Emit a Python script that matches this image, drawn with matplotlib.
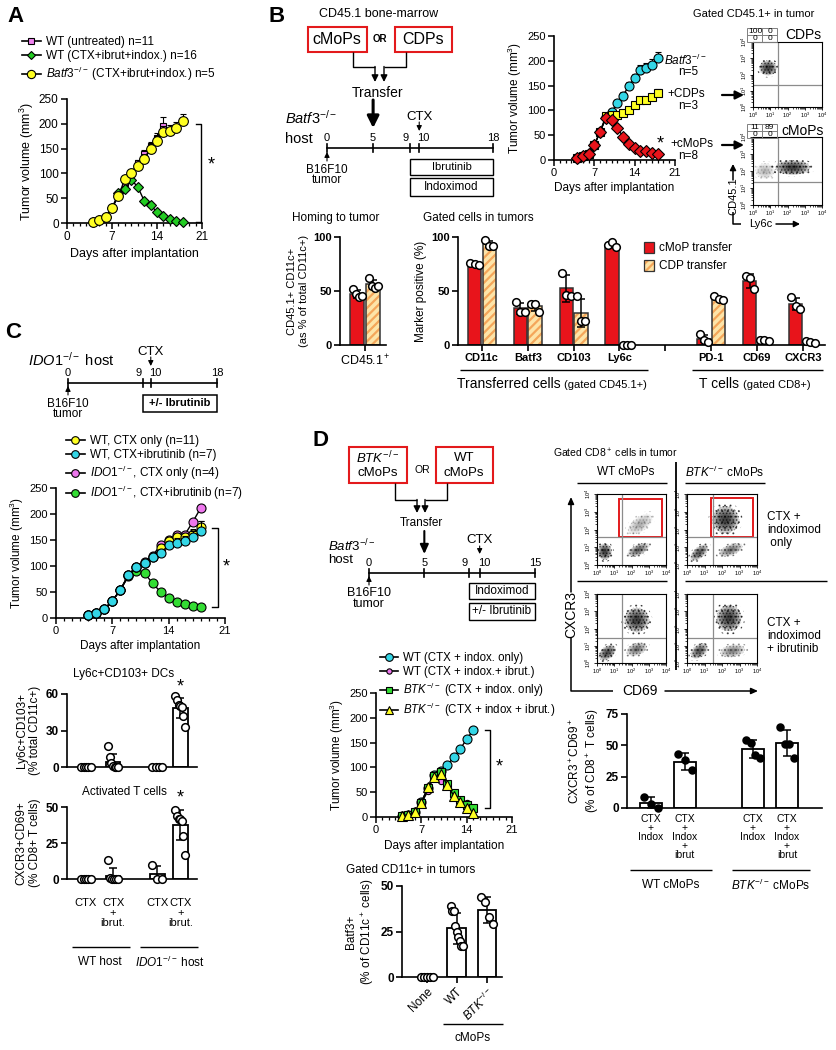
import numpy as np
import matplotlib
matplotlib.use('Agg')
import matplotlib.pyplot as plt
from matplotlib.patches import Ellipse, Rectangle
from matplotlib.lines import Line2D

plt.rcParams['font.family'] = ['Liberation Sans', 'DejaVu Sans']
plt.rcParams['mathtext.fontset'] = 'custom'
plt.rcParams['mathtext.rm'] = 'Liberation Sans'
plt.rcParams['mathtext.it'] = 'Liberation Sans:italic'
plt.rcParams['mathtext.bf'] = 'Liberation Sans:bold'
plt.rcParams['axes.linewidth'] = 1.2
plt.rcParams['hatch.linewidth'] = 1.6

# ---------------- data ----------------
# A: tumour growth
a_days_untr = np.arange(4, 16)
a_untr = [3, 6, 12, 30, 55, 80, 100, 120, 140, 155, 172, 196]
a_untr_err = [1, 1, 2, 3, 4, 5, 6, 7, 8, 8, 9, 18]
a_days = np.arange(4, 19)
a_wt_combo = [3, 6, 12, 30, 60, 68, 87, 73, 45, 36, 22, 14, 8, 5, 3]
a_batf3 = [3, 6, 12, 30, 55, 88, 100, 115, 130, 150, 165, 183, 185, 192, 205]
a_batf3_err = [1, 1, 2, 3, 5, 6, 7, 8, 9, 10, 10, 12, 12, 12, 15]

# B: growth after transfer
b_days = np.arange(4, 19)
b_batf3 = [5, 8, 13, 30, 57, 86, 97, 115, 130, 150, 165, 182, 185, 192, 205]
b_batf3_err = [1, 1, 2, 3, 4, 5, 5, 6, 7, 8, 8, 9, 10, 12, 12]
b_cdp = [5, 8, 13, 30, 57, 88, 90, 90, 94, 100, 110, 120, 121, 127, 135]
b_cdp_err = [1, 1, 1, 2, 3, 4, 4, 4, 4, 5, 5, 6, 6, 7, 8]
b_cmop = [5, 8, 13, 30, 57, 84, 80, 64, 47, 32, 25, 19, 19, 15, 13]
b_timeline_ticks = [0, 5, 9, 10, 18]

# B: bars (individual mice)
b_homing_cmop = [52, 47, 44, 45]
b_homing_cdp = [62, 55, 53, 55]
b_markers = ['CD11c', 'Batf3', 'CD103', 'Ly6c', '', 'PD-1', 'CD69', 'CXCR3']
b_marker_cmop = [[76, 75, 74], [40, 31, 31], [67, 46, 45], [93, 95, 91], None,
                 [10, 5, 3], [64, 62, 52], [44, 36, 33]]
b_marker_cdp = [[97, 92, 92], [38, 38, 31], [45, 22, 22], [0, 0, 0], None,
                [45, 43, 42], [5, 5, 4], [4, 3, 2]]

# B: flow clusters (center x, center y, half-width, half-height, angle, density), log10 units
b_flow_cdp = [(0.87, 2.4, 0.5, 0.45, 0, 1.0)]
b_flow_cmop = [(2.3, 2.2, 1.0, 0.42, 0, 1.0), (0.7, 2.0, 0.55, 0.45, 0, 0.25)]
b_quadrants = [['100', '0'], ['0', '0'], ['11', '89'], ['0', '0']]

# C
c_timeline_ticks = [0, 9, 10, 18]
c_days = np.arange(4, 19)
c_wt_ctx = [6, 10, 17, 33, 54, 83, 98, 106, 117, 135, 148, 155, 155, 162, 175]
c_wt_ctx_err = [1, 1, 2, 3, 4, 5, 5, 6, 6, 7, 8, 8, 9, 10, 12]
c_wt_ib = [6, 10, 17, 33, 54, 83, 98, 106, 117, 125, 140, 145, 148, 155, 168]
c_wt_ib_err = [1, 1, 2, 3, 4, 5, 5, 6, 6, 7, 8, 9, 10, 12, 18]
c_ido_ctx = [6, 10, 17, 33, 54, 83, 98, 108, 120, 140, 150, 160, 160, 185, 212]
c_ido_ib = [6, 10, 17, 33, 54, 80, 90, 86, 67, 50, 38, 31, 27, 23, 21]
c_groups = ['CTX', 'CTX\n+\nibrut.', 'CTX', 'CTX\n+\nibrut.']
c_dcs = [[0, 0, 0, 0, 0], [17, 8, 3, 1, 0, 0, 0], [0, 0, 0, 0], [58, 55, 51, 50, 49, 42, 33]]
c_tcells = [[0, 0, 0, 0, 0], [13, 1, 0, 0, 0, 0], [10, 0, 0], [48, 44, 42, 42, 40, 30, 17]]

# D
d_timeline_ticks = [0, 5, 9, 10, 15]
d_days = np.arange(4, 16)
d_wt_indox = [2, 5, 10, 30, 58, 85, 92, 105, 120, 137, 157, 175]
d_wt_ib = [2, 5, 10, 28, 52, 85, 72, 65, 48, 35, 28, 18]
d_btk_indox = [2, 5, 10, 28, 58, 82, 90, 67, 48, 35, 25, 18]
d_btk_ib = [2, 5, 10, 28, 60, 80, 87, 65, 43, 30, 18, 8]
d_batf3 = [[0, 0, 0, 0, 0], [39, 36, 36, 28, 25, 22, 20, 17, 17], [44, 41, 33, 29]]
d_act = [[9, 3, 0], [43, 38, 30], [54, 52, 42, 40], [65, 51, 51, 40]]
d_act_labels = ['CTX\n+\nIndox', 'CTX\n+\nIndox\n+\nibrut', 'CTX\n+\nIndox', 'CTX\n+\nIndox\n+\nibrut']
d_flow_wt_top = [(0.45, 0.75, 0.4, 0.45, 0, 1.0), (2.4, 0.85, 0.65, 0.3, 25, 0.7), (2.5, 2.3, 0.8, 0.4, 35, 0.3)]
d_flow_btk_top = [(2.2, 2.55, 0.75, 0.75, 0, 1.0), (0.7, 0.7, 0.6, 0.3, 40, 0.8), (2.5, 0.85, 0.7, 0.3, 20, 0.6)]
d_flow_wt_bot = [(2.3, 2.5, 0.7, 0.7, 0, 1.0), (0.6, 0.6, 0.55, 0.35, 40, 0.9), (2.3, 0.8, 0.6, 0.35, 20, 0.6)]
d_flow_btk_bot = [(2.4, 2.6, 0.7, 0.75, 0, 1.0), (0.7, 0.7, 0.55, 0.35, 40, 0.8), (2.6, 0.7, 0.7, 0.35, 10, 0.5)]

RED = '#e8141b'
BEIGE = '#fde4a8'
ORANGE = '#f4a65a'
BOXRED = '#e31a1c'

W, H = 836, 1050
fig = plt.figure(figsize=(W / 100, H / 100), dpi=100)


def box(x0, y0, x1, y1):
    ax = fig.add_axes([x0 / W, 1 - y1 / H, (x1 - x0) / W, (y1 - y0) / H])
    ax.patch.set_visible(False)
    return ax


ov = box(0, 0, W, H)
ov.set_xlim(0, W)
ov.set_ylim(H, 0)
ov.axis('off')
ov.set_zorder(10)


def txt(x, y, s, fs=8.5, ha='center', va='center', **kw):
    ov.text(x, y, s, fontsize=fs, ha=ha, va=va, **kw)


def ln(xs, ys, lw=1.0, color='k'):
    ov.plot(xs, ys, color=color, lw=lw, solid_capstyle='butt')


def arr(ax, x0, y0, x1, y1, lw=1.0, hw=0.25, hl=0.5):
    ax.annotate('', xy=(x1, y1), xytext=(x0, y0), annotation_clip=False,
                arrowprops=dict(arrowstyle='-|>,head_width=%s,head_length=%s' % (hw, hl),
                                color='k', lw=lw, shrinkA=0, shrinkB=0))


def growth_ax(x0, y0, x1, y1, fs=8):
    ax = box(x0, y0, x1, y1)
    ax.set_xlim(0, 21)
    ax.set_ylim(0, 250)
    ax.set_xticks([0, 7, 14, 21])
    ax.set_xticks(range(22), minor=True)
    ax.set_yticks(range(0, 251, 50))
    for s in ('top', 'right'):
        ax.spines[s].set_visible(False)
    ax.tick_params(labelsize=fs, length=4, width=1.1, pad=2)
    ax.tick_params(axis='x', which='minor', length=2.5, width=0.9)
    ax.set_xlabel('Days after implantation', fontsize=fs + 0.5, labelpad=3)
    ax.set_ylabel('Tumor volume (mm$^3$)', fontsize=fs + 0.5, labelpad=2)
    return ax


def series(ax, d, v, err, marker, fc, ms, z):
    v = np.asarray(v, float)
    if err is not None:
        ax.errorbar(d, v, yerr=[np.zeros(len(v)), err], fmt='none', ecolor='k',
                    elinewidth=0.8, capsize=2, capthick=0.8, zorder=z)
    ax.plot(d, v, marker=marker, color='k', lw=1, mfc=fc, mec='k', mew=0.8, ms=ms,
            zorder=z + 0.5, clip_on=False)
    return Line2D([], [], color='k', lw=1.2, marker=marker, mfc=fc, mec='k', mew=0.8, ms=ms * 0.85)


def legend(handles, labels, x, y, fs=8.5):
    fig.legend(handles, labels, loc='upper left', bbox_to_anchor=(x / W, 1 - y / H),
               frameon=False, fontsize=fs, handlelength=1.6, handletextpad=0.4,
               labelspacing=0.2, borderaxespad=0, borderpad=0)


def bracket(ax, xl, xr, ytop, ybot, xs, ys):
    ax.plot([xl, xr, xr, xl], [ytop, ytop, ybot, ybot], color='k', lw=1, clip_on=False)
    ax.text(xs, ys, '*', fontsize=13, ha='center', va='center', clip_on=False)


def bar_ax(x0, y0, x1, y1, xlim, ymax, yticks, fs=8.5):
    ax = box(x0, y0, x1, y1)
    ax.set_xlim(*xlim)
    ax.set_ylim(0, ymax)
    ax.set_yticks(yticks, [str(t) for t in yticks], fontweight='bold')
    for s in ('top', 'right'):
        ax.spines[s].set_visible(False)
    ax.tick_params(labelsize=fs, width=1.2, length=4, pad=2)
    return ax


def dot_bar(ax, x, vals, width, kind='white', dot_fc='white', ms=5.5):
    vals = np.asarray(vals, float)
    m = vals.mean()
    sd = vals.std(ddof=1) if len(vals) > 1 else 0
    if kind == 'red':
        ax.bar(x, m, width, color=RED, edgecolor='#333333', lw=1.1, zorder=2)
    elif kind == 'beige':
        ax.bar(x, m, width, color=BEIGE, edgecolor=ORANGE, hatch='////', lw=0, zorder=2)
        ax.bar(x, m, width, fill=False, edgecolor='#333333', lw=1.1, zorder=2.1)
    else:
        ax.bar(x, m, width, color='white', edgecolor='k', lw=1.3, zorder=2)
    ax.errorbar(x, m, yerr=sd, fmt='none', ecolor='k', capsize=3, elinewidth=1.1,
                capthick=1.1, zorder=3)
    offs = np.linspace(-width * 0.32, width * 0.32, len(vals))
    ax.plot(x + offs, vals, 'o', mfc=dot_fc, mec='k', mew=1.1, ms=ms, zorder=4, clip_on=False)


def cloud(ax, cx, cy, sx, sy, ang, dens):
    # stippled halo + graded core, drawn with a finer hatch
    with plt.rc_context({'hatch.linewidth': 0.7}):
        ax.add_patch(Ellipse((cx, cy), 2.6 * sx, 2.6 * sy, angle=ang, fill=False,
                             hatch='...', ec=(0, 0, 0, 0.6 * dens), lw=0))
        ax.add_patch(Ellipse((cx, cy), 2.1 * sx, 2.1 * sy, angle=ang, fill=False,
                             hatch='.....', ec=(0, 0, 0, 0.6 * dens), lw=0))
    for f in (1.0, 0.85, 0.7, 0.55, 0.4, 0.25):
        ax.add_patch(Ellipse((cx, cy), 2 * sx * f, 2 * sy * f, angle=ang,
                             fc=(0, 0, 0, 0.2 * dens), lw=0))


def flow(x0, y0, x1, y1, clouds, qx, qy, gate=None):
    ax = box(x0, y0, x1, y1)
    ax.set_xlim(0, 4)
    ax.set_ylim(0, 4)
    for c in clouds:
        cloud(ax, *c)
    ax.axvline(qx, color='0.55', lw=0.9)
    ax.axhline(qy, color='0.55', lw=0.9)
    if gate is not None:
        gx0, gy0, gx1, gy1 = gate
        ax.add_patch(Rectangle((gx0, gy0), gx1 - gx0, gy1 - gy0, fill=False, ec=BOXRED, lw=1.4))
    labs = ['$10^{%d}$' % k for k in range(5)]
    ax.set_xticks(range(5), labs)
    ax.set_yticks(range(5), labs)
    minor = [k + np.log10(m) for k in range(4) for m in range(2, 10)]
    ax.set_xticks(minor, minor=True)
    ax.set_yticks(minor, minor=True)
    ax.tick_params(labelsize=4, length=2, width=0.6, pad=1)
    ax.tick_params(which='minor', length=1.2, width=0.5)
    for lab in ax.get_yticklabels():
        lab.set_rotation(90)
        lab.set_va('center')
    for s in ax.spines.values():
        s.set_linewidth(0.8)
    return ax


def timeline(x0, x1, y0, y1, dmax, ticks, yl):
    t = box(x0, y0, x1, y1)
    t.set_xlim(0, dmax)
    t.set_ylim(y1, y0)
    t.axis('off')
    t.set_zorder(11)
    t.plot([0, dmax], [yl, yl], color='k', lw=1.2, clip_on=False)
    for d in ticks:
        t.plot([d, d], [yl - 4, yl + 4], color='k', lw=1.2, clip_on=False)
        # keep the close 9 / 10 labels apart
        dx = {9: -3, 10: 3}.get(d, 0)
        t.annotate(str(d), (d, yl - 10), xytext=(dx, 0), textcoords='offset points',
                   ha='center', va='center', fontsize=8, annotation_clip=False)
    return t


# ================= Panel A =================
txt(15, 17, 'A', fs=16, weight='bold')
axA = growth_ax(67, 99, 202, 223, fs=8.5)
hA = [series(axA, a_days_untr, a_untr, a_untr_err, 's', '#ee82ee', 5, 3),
      series(axA, a_days, a_wt_combo, None, 'D', '#22cc22', 5, 4),
      series(axA, a_days, a_batf3, a_batf3_err, 'o', '#ffff22', 7, 5)]
legend(hA, ['WT (untreated) n=11', 'WT (CTX+ibrut+indox.) n=16',
            r'$\mathit{Batf3}^{-/-}$ (CTX+ibrut+indox.) n=5'], 22, 36)
bracket(axA, 20.0, 20.8, 200, 3, 22.5, 116)

# ================= Panel B =================
txt(277, 17, 'B', fs=16, weight='bold')
txt(379, 14, 'CD45.1 bone-marrow', fs=9)
ov.add_patch(Rectangle((308, 27), 59, 25, fill=False, ec=BOXRED, lw=1.5))
ov.add_patch(Rectangle((395, 27), 57, 25, fill=False, ec=BOXRED, lw=1.5))
txt(337, 40, 'cMoPs', fs=11.5)
txt(423, 40, 'CDPs', fs=11.5)
txt(380, 39, 'OR', fs=7, weight='bold')
ln([353, 353, 375], [52, 67, 67])
ln([406, 406, 384], [52, 67, 67])
arr(ov, 375, 66.5, 375, 82, hw=0.2, hl=0.4)
arr(ov, 384, 66.5, 384, 82, hw=0.2, hl=0.4)
txt(378, 93, 'Transfer', fs=10)
txt(285, 118, r'$\mathit{Batf3}^{-/-}$', fs=10.5, ha='left')
txt(285, 139, 'host', fs=10.5, ha='left')
tB = timeline(327, 493, 95, 200, 18, b_timeline_ticks, 148)
arr(tB, 5, 100, 5, 128, lw=2.2, hw=0.35, hl=0.7)
tB.text(10, 117, 'CTX', ha='center', va='center', fontsize=9.5)
arr(tB, 10, 122, 10, 131, lw=0.8, hw=0.15, hl=0.3)
arr(tB, 0, 161, 0, 152, lw=0.8, hw=0.15, hl=0.3)
tB.text(0, 170, 'B16F10', ha='center', va='center', fontsize=8.5)
tB.text(0, 180, 'tumor', ha='center', va='center', fontsize=8.5)
tB.add_patch(Rectangle((9, 159), 9, 16, fill=False, lw=1, clip_on=False))
tB.add_patch(Rectangle((9, 178), 9, 18, fill=False, lw=1, clip_on=False))
tB.text(13.5, 167, 'Ibrutinib', ha='center', va='center', fontsize=8)
tB.text(13.5, 187, 'Indoximod', ha='center', va='center', fontsize=8.5)

axB = growth_ax(554, 36, 675, 160, fs=8)
series(axB, b_days, b_batf3, b_batf3_err, 'o', '#33d6e6', 6.5, 3)
series(axB, b_days, b_cdp, b_cdp_err, 's', '#ffff22', 5.5, 4)
series(axB, b_days, b_cmop, None, 'D', RED, 6, 5)
txt(685, 60, r'$\mathit{Batf3}^{-/-}$', fs=8.5)
txt(688, 72, 'n=5', fs=8.5)
txt(686, 94, '+CDPs', fs=8.5)
txt(688, 106, 'n=3', fs=8.5)
txt(660, 144, '*', fs=13)
txt(692, 144, '+cMoPs', fs=8.5)
txt(688, 156, 'n=8', fs=8.5)
arr(ov, 722, 95, 744, 95, lw=1.6, hw=0.25, hl=0.5)
arr(ov, 722, 145, 744, 145, lw=1.6, hw=0.25, hl=0.5)

txt(754, 14, 'Gated CD45.1+ in tumor', fs=8)
for k, (ty, name, nx, ny) in enumerate(((28, 'CDPs', 803, 35), (124, 'cMoPs', 803, 131))):
    top, bot = b_quadrants[2 * k], b_quadrants[2 * k + 1]
    ov.add_patch(Rectangle((747, ty), 30, 14, fill=False, ec='0.5', lw=0.7))
    ln([762, 762], [ty, ty + 14], lw=0.7, color='0.5')
    ln([747, 777], [ty + 7, ty + 7], lw=0.7, color='0.5')
    txt(755, ty + 3.6, top[0], fs=6)
    txt(769.5, ty + 3.6, top[1], fs=6)
    txt(755, ty + 10.6, bot[0], fs=6)
    txt(769.5, ty + 10.6, bot[1], fs=6)
    txt(nx, ny, name, fs=10)
flow(753, 42, 822, 107, b_flow_cdp, 1.45, 1.35)
flow(753, 137, 822, 205, b_flow_cmop, 1.45, 1.35)
ov.text(733, 196, 'CD45.1', rotation=90, fontsize=8, ha='center', va='center')
arr(ov, 733, 180, 733, 164, lw=1.1, hw=0.18, hl=0.35)
ln([733, 733, 741], [212, 224, 224], lw=1.1)
txt(761, 224, 'Ly6c', fs=8)
arr(ov, 776, 224, 800, 224, lw=1.1, hw=0.18, hl=0.35)

# B bars
txt(336, 218, 'Homing to tumor', fs=8.5)
axH = bar_ax(340, 237, 386, 345, (-1.1, 0.9), 100, [0, 50, 100], fs=8)
dot_bar(axH, -0.35, b_homing_cmop, 0.6, 'red')
dot_bar(axH, 0.35, b_homing_cdp, 0.6, 'beige')
axH.set_xticks([0], ['CD45.1$^+$'], fontsize=9)
axH.set_ylabel('CD45.1+ CD11c+\n(as % of total CD11c+)', fontsize=8, labelpad=3)

txt(478, 218, 'Gated cells in tumors', fs=8.5)
axM = bar_ax(458, 237, 825, 345, (-0.52, 7.48), 100, [0, 50, 100], fs=8)
for i, (rv, bv) in enumerate(zip(b_marker_cmop, b_marker_cdp)):
    if rv is None:
        continue
    dot_bar(axM, i - 0.16, rv, 0.29, 'red')
    dot_bar(axM, i + 0.16, bv, 0.29, 'beige')
axM.set_xticks(range(len(b_markers)), b_markers, fontweight='bold', fontsize=8)
axM.set_ylabel('Marker positive (%)', fontsize=8.5, labelpad=3)
ov.add_patch(Rectangle((644, 242), 10, 11, fc=RED, ec='#333333', lw=0.9))
ov.add_patch(Rectangle((644, 260), 10, 11, fc=BEIGE, ec=ORANGE, hatch='////', lw=0))
ov.add_patch(Rectangle((644, 260), 10, 11, fill=False, ec='#333333', lw=0.9))
txt(659, 248, 'cMoP transfer', fs=8.5, ha='left')
txt(659, 266, 'CDP transfer', fs=8.5, ha='left')
ln([460, 648], [370, 370])
txt(561, 384, 'Transferred cells', fs=10, ha='right')
txt(564, 385, '(gated CD45.1+)', fs=8, ha='left')
ln([692, 823], [370, 370])
txt(739, 384, 'T cells', fs=10, ha='right')
txt(743, 385, '(gated CD8+)', fs=8, ha='left')

# ================= Panel C =================
txt(13, 333, 'C', fs=16, weight='bold')
txt(28, 360, r'$\mathit{IDO1}^{-/-}$ host', fs=10.5, ha='left')
tC = timeline(68, 217, 340, 420, 18, c_timeline_ticks, 383)
tC.text(10, 352, 'CTX', ha='center', va='center', fontsize=9.5)
arr(tC, 10, 357, 10, 366, lw=0.8, hw=0.15, hl=0.3)
arr(tC, 0, 395, 0, 386, lw=0.8, hw=0.15, hl=0.3)
tC.text(0, 404, 'B16F10', ha='center', va='center', fontsize=8.5)
tC.text(0, 414, 'tumor', ha='center', va='center', fontsize=8.5)
tC.add_patch(Rectangle((9, 395), 9, 17, fill=False, lw=1.1, clip_on=False))
tC.text(13.5, 403.5, '+/- Ibrutinib', ha='center', va='center', fontsize=8, weight='bold')

axC = growth_ax(56, 488, 225, 618, fs=8)
hC3 = series(axC, c_days, c_ido_ib, None, 'o', '#33dd33', 6.5, 2)
hC2 = series(axC, c_days, c_ido_ctx, None, 'o', '#ee77ee', 6.5, 3)
hC0 = series(axC, c_days, c_wt_ctx, c_wt_ctx_err, 'o', '#ffff22', 6.5, 4)
hC1 = series(axC, c_days, c_wt_ib, c_wt_ib_err, 'o', '#33d6e6', 6.5, 5)
legend([hC0, hC1, hC2, hC3], ['WT, CTX only (n=11)', 'WT, CTX+ibrutinib (n=7)',
                              r'$\mathit{IDO1}^{-/-}$, CTX only (n=4)',
                              r'$\mathit{IDO1}^{-/-}$, CTX+ibrutinib (n=7)'], 66, 435)
bracket(axC, 19.4, 20.1, 173, 21, 21.2, 98)

c_pos = [0, 1, 2.63, 3.48]
txt(124, 674, 'Ly6c+CD103+ DCs', fs=8.5)
axC1 = bar_ax(67, 694, 197, 767, (-0.7, 4.1), 60, [0, 30, 60])
for p, v in zip(c_pos, c_dcs):
    dot_bar(axC1, p, v, 0.55)
axC1.set_xticks([])
axC1.set_ylabel('Ly6c+CD103+\n(% total CD11c+)', fontsize=8.5, labelpad=3)
axC1.text(3.48, 66, '*', fontsize=13, ha='center', va='center', clip_on=False)

txt(124, 792, 'Activated T cells', fs=8.5)
axC2 = bar_ax(67, 807, 197, 879, (-0.7, 4.1), 50, [0, 25, 50])
for p, v in zip(c_pos, c_tcells):
    dot_bar(axC2, p, v, 0.55)
axC2.set_xticks(c_pos, c_groups, fontsize=8, linespacing=0.95)
axC2.tick_params(axis='x', length=0, pad=14)
axC2.set_ylabel('CXCR3+CD69+\n(% CD8+ T cells)', fontsize=8.5, labelpad=3)
axC2.text(3.48, 56, '*', fontsize=13, ha='center', va='center', clip_on=False)
ln([72, 130], [947, 947])
ln([140, 198], [947, 947])
txt(100, 962, 'WT host', fs=8.5)
txt(170, 962, r'$\mathit{IDO1}^{-/-}$ host', fs=8.5)

# ================= Panel D =================
txt(320, 440, 'D', fs=16, weight='bold')
ov.add_patch(Rectangle((349, 447), 58, 36, fill=False, ec=BOXRED, lw=1.5))
ov.add_patch(Rectangle((436, 447), 57, 36, fill=False, ec=BOXRED, lw=1.5))
txt(378, 458, r'$\mathit{BTK}^{-/-}$', fs=9.5)
txt(378, 473, 'cMoPs', fs=9.5)
txt(464, 458, 'WT', fs=9.5)
txt(464, 473, 'cMoPs', fs=9.5)
txt(422, 470, 'OR', fs=7.5)
ln([395, 395, 417], [483, 500, 500])
ln([447, 447, 425], [483, 500, 500])
arr(ov, 417, 499.5, 417, 513, hw=0.2, hl=0.4)
arr(ov, 425, 499.5, 425, 513, hw=0.2, hl=0.4)
txt(421, 523, 'Transfer', fs=8.5)
txt(328, 546, r'$\mathit{Batf3}^{-/-}$', fs=9.5, ha='left')
txt(328, 560, 'host', fs=9.5, ha='left')
tD = timeline(369, 535, 525, 625, 15, d_timeline_ticks, 573)
arr(tD, 5, 531, 5, 554, lw=1.5, hw=0.25, hl=0.55)
tD.text(10, 540, 'CTX', ha='center', va='center', fontsize=9.5)
arr(tD, 10, 546, 10, 554, lw=0.8, hw=0.15, hl=0.3)
arr(tD, 0, 585, 0, 576, lw=0.8, hw=0.15, hl=0.3)
tD.text(0, 593, 'B16F10', ha='center', va='center', fontsize=9)
tD.text(0, 604, 'tumor', ha='center', va='center', fontsize=9)
tD.add_patch(Rectangle((9, 583), 6, 16, fill=False, lw=1, clip_on=False))
tD.add_patch(Rectangle((9, 603), 6, 17, fill=False, lw=1, clip_on=False))
tD.text(12, 591, 'Indoximod', ha='center', va='center', fontsize=8.5)
tD.text(12, 611.5, '+/- Ibrutinib', ha='center', va='center', fontsize=8.5)

axD = growth_ax(376, 693, 512, 817, fs=8)
hD0 = series(axD, d_days, d_wt_indox, None, 'o', '#33d6e6', 6.5, 2)
hD1 = series(axD, d_days, d_wt_ib, None, 'o', '#ee77ee', 4.5, 3)
hD2 = series(axD, d_days, d_btk_indox, None, 's', '#33dd33', 5.5, 4)
hD3 = series(axD, d_days, d_btk_ib, None, '^', '#ffff22', 6.5, 5)
legend([hD0, hD1, hD2, hD3], ['WT (CTX + indox. only)', 'WT (CTX + indox.+ ibrut.)',
                              r'$\mathit{BTK}^{-/-}$ (CTX + indox. only)',
                              r'$\mathit{BTK}^{-/-}$ (CTX + indox + ibrut.)'], 380, 652, fs=8.3)
bracket(axD, 16.9, 17.6, 175, 18, 19.0, 100)

txt(411, 870, 'Gated CD11c+ in tumors', fs=8.5)
axDb = bar_ax(402, 886, 502, 977, (-0.83, 2.5), 50, [0, 25, 50])
for p, v in zip([0, 1, 2], d_batf3):
    dot_bar(axDb, p, v, 0.63)
axDb.set_xticks([0, 1, 2], ['None', 'WT', r'$\mathit{BTK}^{-/-}$'], fontsize=8.5,
                rotation=45, ha='right', rotation_mode='anchor')
axDb.set_ylabel('Batf3+\n(% of CD11c$^+$ cells)', fontsize=8.5, labelpad=3)
ln([443, 503], [1024, 1024])
txt(473, 1038, 'cMoPs', fs=8.5)

txt(615, 453, 'Gated CD8$^+$ cells in tumor', fs=7.5)
txt(626, 472, 'WT cMoPs', fs=8.5)
txt(725, 472, r'$\mathit{BTK}^{-/-}$ cMoPs', fs=8.5)
ln([577, 667], [483, 483])
ln([685, 765], [483, 483])
ln([676, 676], [462, 670], lw=1.3)
ln([577, 667], [581, 581])
ln([685, 827], [581, 581])
flow(597, 494, 666, 565, d_flow_wt_top, 1.45, 1.58, (1.28, 1.58, 3.77, 3.72))
flow(687, 494, 757, 565, d_flow_btk_top, 1.49, 1.58, (1.37, 1.58, 3.77, 3.77))
flow(597, 594, 666, 663, d_flow_wt_bot, 1.45, 1.45)
flow(687, 594, 757, 663, d_flow_btk_bot, 1.49, 1.45)
txt(767, 530, 'CTX +\nindoximod\n only', fs=8.5, ha='left', linespacing=1.15)
txt(767, 636, 'CTX +\nindoximod\n+ ibrutinib', fs=8.5, ha='left', linespacing=1.15)
ov.text(571, 615, 'CXCR3', rotation=90, fontsize=10, ha='center', va='center')
arr(ov, 571, 592, 571, 497, lw=1.1, hw=0.18, hl=0.4)
ln([571, 571, 613], [638, 691, 691], lw=1.1)
txt(640, 691, 'CD69', fs=10)
arr(ov, 665, 691, 758, 691, lw=1.1, hw=0.18, hl=0.4)

axDa = bar_ax(627, 714, 822, 808, (-0.7, 5.03), 75, [0, 25, 50, 75])
for p, v in zip([0, 1, 3, 4], d_act):
    dot_bar(axDa, p, v, 0.65, dot_fc='k', ms=5)
axDa.set_xticks([0, 1, 3, 4], d_act_labels, fontsize=7.5, linespacing=0.9, va='top')
axDa.tick_params(axis='x', length=0, pad=4)
axDa.set_ylabel('CXCR3$^+$CD69$^+$\n(% of CD8$^+$ T cells)', fontsize=8.5, labelpad=3)
ln([630, 712], [870, 870])
ln([732, 810], [870, 870])
txt(671, 885, 'WT cMoPs', fs=8.5)
txt(771, 885, r'$\mathit{BTK}^{-/-}$ cMoPs', fs=8.5)

fig.savefig('out.png', dpi=100)
